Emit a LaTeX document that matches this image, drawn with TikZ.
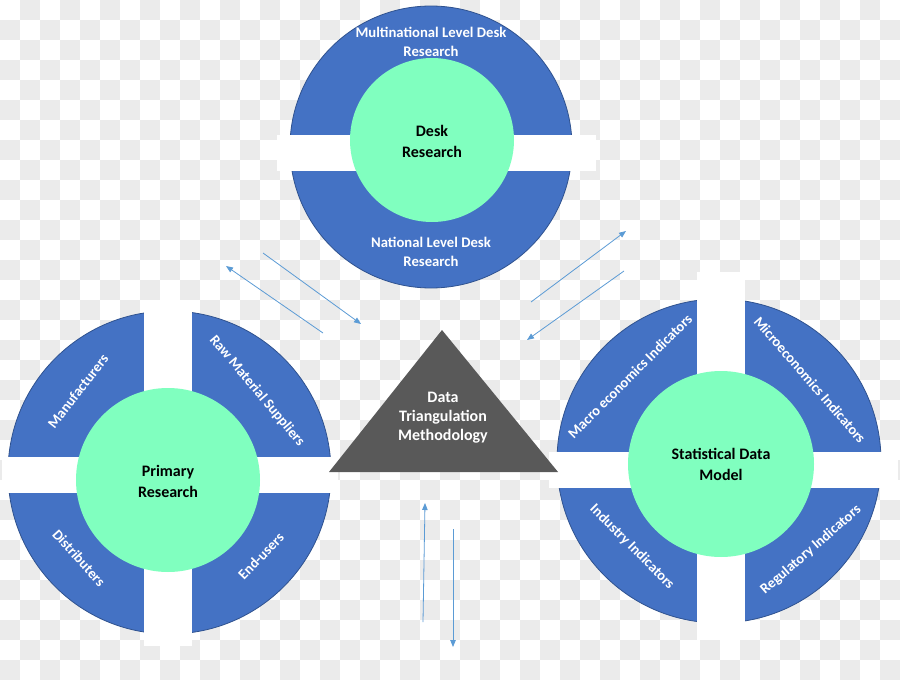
\documentclass[tikz,border=0pt]{standalone}
\usepackage{fontspec}
\setmainfont{Carlito}
\usetikzlibrary{arrows.meta}
\definecolor{qblue}{RGB}{68,114,196}
\definecolor{qedge}{RGB}{47,82,143}
\definecolor{qgreen}{RGB}{128,255,191}
\definecolor{qtri}{RGB}{89,89,89}
\definecolor{qarrow}{RGB}{91,155,213}
\definecolor{qcheck}{RGB}{235,235,235}
\begin{document}
\begin{tikzpicture}[x=1pt,y=-1pt,
  outer/.style={circle,inner sep=0pt,fill=qblue,draw=qedge,line width=0.8pt},
  band/.style={fill=white,draw=none},
  core/.style={circle,inner sep=0pt,fill=qgreen,draw=none},
  coretext/.style={font=\bfseries\fontsize{16}{21}\selectfont,align=center,text=black},
  ringtext/.style={font=\bfseries\fontsize{14.7}{18.5}\selectfont,align=center,text=white},
  tritext/.style={font=\bfseries\fontsize{16}{19}\selectfont,align=center,text=white},
  quadtext/.style={font=\bfseries\fontsize{14.5}{17}\selectfont,text=white},
  flow/.style={draw=qarrow,line width=0.8pt,-{Triangle[length=7pt,width=5.5pt]}}
]
\useasboundingbox (0,0) rectangle (900,680);
\fill[white] (0,0) rectangle (900,680);
\foreach \x in {20,60,...,880} \foreach \y in {0,40,...,640} \fill[qcheck] (\x,\y) rectangle +(20,20);
\foreach \x in {0,40,...,880} \foreach \y in {20,60,...,660} \fill[qcheck] (\x,\y) rectangle +(20,20);

% ---------- Desk research (top) ----------
\node[outer,minimum size=282pt] (deskring) at (431,147) {};
\fill[band] (277,135) rectangle (596,171);
\node[core,minimum size=164pt] (deskcore) at (432,140) {};
\node[coretext] (desk) at (432,141) {Desk\\Research};
\node[ringtext] (multi) at (431,42) {Multinational Level Desk\\Research};
\node[ringtext] (national) at (431,252) {National Level Desk\\Research};

% ---------- Primary research (left) ----------
\node[outer,minimum size=323pt] (primring) at (169.5,472.5) {};
\fill[band] (144,300) rectangle (192,646);
\fill[band] (2,457) rectangle (338,493);
\node[core,minimum size=184pt] (primcore) at (168,480) {};
\node[coretext] (prim) at (168,481) {Primary\\Research};
\node[quadtext,rotate=52] (manu) at (78,391) {Manufacturers};
\node[quadtext,rotate=-50] (raw) at (257,391) {Raw Material Suppliers};
\node[quadtext,rotate=-48] (dist) at (79,558) {Distributers};
\node[quadtext,rotate=46] (endu) at (261,556) {End-users};

% ---------- Statistical data model (right) ----------
\node[outer,minimum size=324pt] (statring) at (719,461) {};
\fill[band] (697,272) rectangle (745,640);
\fill[band] (549,452) rectangle (898,488);
\node[core,minimum size=186pt] (statcore) at (721,464) {};
\node[coretext] (stat) at (721,464) {Statistical Data\\Model};
\node[quadtext,rotate=45] (macro) at (630,376) {Macro economics Indicators};
\node[quadtext,rotate=-49] (micro) at (810,380) {Microeconomics Indicators};
\node[quadtext,rotate=-45] (indus) at (632,547) {Industry Indicators};
\node[quadtext,rotate=41] (regul) at (811,550) {Regulatory Indicators};

% ---------- Triangle ----------
\fill[qtri] (442,330) -- (329,472) -- (558,472) -- cycle;
\node[tritext] (tri) at (443,418) {Data\\Triangulation\\Methodology};

% ---------- Arrows ----------
\coordinate (a1s) at (323,333); \coordinate (a1e) at (226,266);
\coordinate (a2s) at (263,253); \coordinate (a2e) at (361,324);
\coordinate (a3s) at (531,302); \coordinate (a3e) at (626,231);
\coordinate (a4s) at (624,271); \coordinate (a4e) at (527,340);
\coordinate (a5s) at (423,622); \coordinate (a5e) at (425,503);
\coordinate (a6s) at (453,529); \coordinate (a6e) at (453,647);
\draw[flow] (a1s) -- (a1e);
\draw[flow] (a2s) -- (a2e);
\draw[flow] (a3s) -- (a3e);
\draw[flow] (a4s) -- (a4e);
\draw[flow] (a5s) -- (a5e);
\draw[flow] (a6s) -- (a6e);
\end{tikzpicture}
\end{document}
